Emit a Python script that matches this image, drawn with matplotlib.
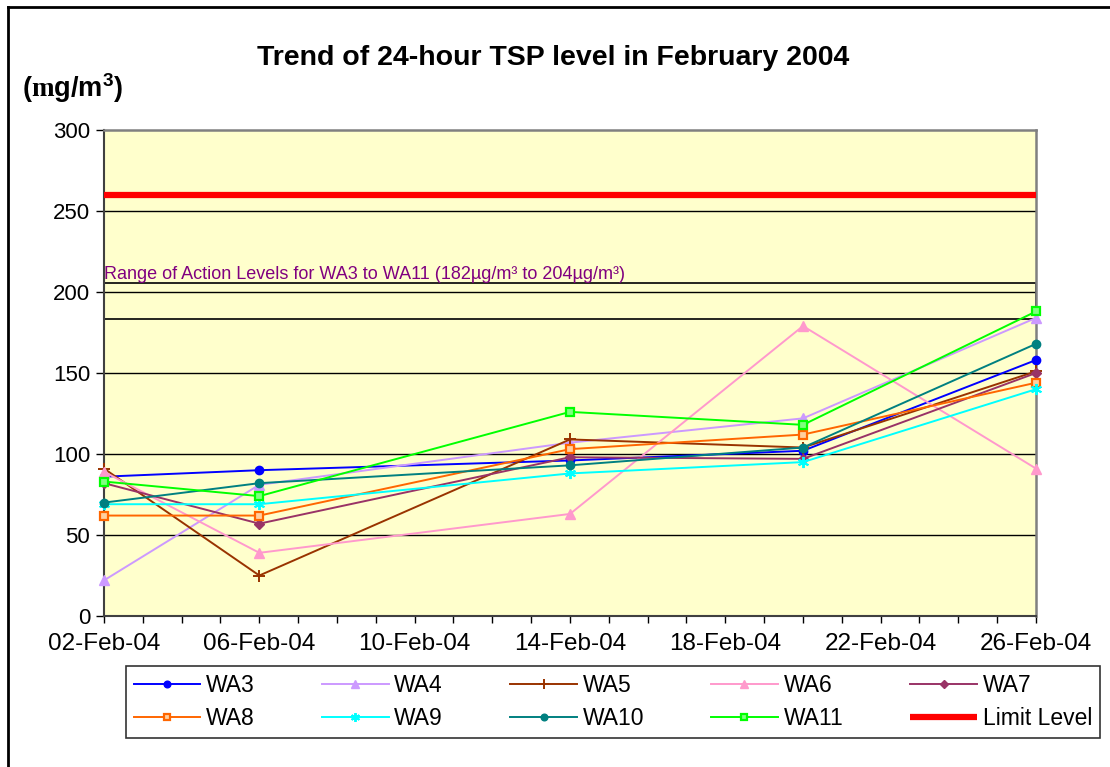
import matplotlib
matplotlib.use("Agg")
import matplotlib.pyplot as plt
import matplotlib.dates as mdates
from matplotlib.lines import Line2D
from matplotlib.patches import Rectangle
import datetime as dt

plt.rcParams['font.family'] = ['Liberation Sans', 'DejaVu Sans']
plt.rcParams['mathtext.fontset'] = 'custom'
plt.rcParams['mathtext.rm'] = 'Liberation Serif:bold'
plt.rcParams['mathtext.bf'] = 'Liberation Sans:bold'

dates = ["2004-02-02", "2004-02-06", "2004-02-14", "2004-02-20", "2004-02-26"]
WA3 = [86, 90, 96, 102, 158]
WA4 = [22, 81, 107, 122, 184]
WA5 = [91, 25, 109, 104, 151]
WA6 = [89, 39, 63, 179, 91]
WA7 = [82, 57, 98, 97, 150]
WA8 = [62, 62, 103, 112, 144]
WA9 = [69, 69, 88, 95, 140]
WA10 = [70, 82, 93, 104, 168]
WA11 = [83, 74, 126, 118, 188]
limit_level = 260
action_low, action_high = 183.5, 205.5
series_names = ["WA3", "WA4", "WA5", "WA6", "WA7", "WA8", "WA9", "WA10", "WA11"]
series_values = [WA3, WA4, WA5, WA6, WA7, WA8, WA9, WA10, WA11]
x_start, x_end = "2004-02-02", "2004-02-26"
y_ticks = [0, 50, 100, 150, 200, 250, 300]

styles = {
    "WA3": dict(color="#0000FF", marker="o", ms=6),
    "WA4": dict(color="#CC99FF", marker="^", ms=7),
    "WA5": dict(color="#993300", marker="+", ms=9, mew=1.4),
    "WA6": dict(color="#FF99CC", marker="^", ms=7),
    "WA7": dict(color="#993366", marker="D", ms=5.5),
    "WA8": dict(color="#FF6600", marker="s", ms=6, mfc="#FFD0A0", mew=1.6),
    "WA9": dict(color="#00FFFF", marker=(6, 2, 0), ms=8, mew=1.4),
    "WA10": dict(color="#008080", marker="o", ms=6),
    "WA11": dict(color="#00FF00", marker="s", ms=6, mfc="#80FF80", mew=1.6),
}

xd = [dt.datetime.strptime(d, "%Y-%m-%d") for d in dates]

fig = plt.figure(figsize=(11.1, 7.67), dpi=100)
ax = fig.add_axes([104 / 1110, 1 - 616 / 767, (1036 - 104) / 1110, (616 - 130) / 767])
ax.set_facecolor("#FFFFCC")

for yv in y_ticks[1:-1]:
    ax.axhline(yv, color="black", lw=1, zorder=1)

ax.add_patch(Rectangle((mdates.date2num(dt.datetime.strptime(x_start, "%Y-%m-%d")), action_low),
                       24, action_high - action_low, fill=False, ec="black", lw=1.2, zorder=2))

handles = []
for name, vals in zip(series_names, series_values):
    st = styles[name]
    h, = ax.plot(xd, vals, lw=1.4, label=name, clip_on=False, zorder=3, **st)
    handles.append(h)

lim = ax.axhline(limit_level, color="#FF0000", lw=4.5, solid_capstyle="butt", zorder=4, label="Limit Level")
handles.append(lim)

ax.set_xlim(dt.datetime.strptime(x_start, "%Y-%m-%d"), dt.datetime.strptime(x_end, "%Y-%m-%d"))
ax.set_ylim(0, 300)
ax.set_yticks(y_ticks)
ax.xaxis.set_major_locator(mdates.DayLocator(bymonthday=range(2, 30, 4)))
ax.xaxis.set_major_formatter(mdates.DateFormatter("%d-%b-%y"))
ax.xaxis.set_minor_locator(mdates.DayLocator())
ax.tick_params(axis="x", which="both", direction="out", length=5, width=1, colors="black",
               labelsize=17.5, pad=7)
ax.tick_params(axis="y", direction="out", length=6, width=1, labelsize=16, pad=4)

for s in ["left", "bottom"]:
    ax.spines[s].set_color("#404040")
    ax.spines[s].set_linewidth(1.5)
for s in ["top", "right"]:
    ax.spines[s].set_color("#808080")
    ax.spines[s].set_linewidth(1.8)

ax.text(0.0, action_high, "Range of Action Levels for WA3 to WA11 (182µg/m³ to 204µg/m³)",
        transform=ax.get_yaxis_transform(), color="#800080", fontsize=13,
        family=["Liberation Sans Narrow", "Liberation Sans"], va="bottom", ha="left", zorder=5)

fig.text(553 / 1110, 1 - 58 / 767, "Trend of 24-hour TSP level in February 2004",
         fontsize=20.5, fontweight="bold", ha="center", va="center")
fig.text(22 / 1110, 1 - 88 / 767, r"$\mathbf{(}\mathrm{m}\mathbf{g/m^3)}$",
         fontsize=19.5, ha="left", va="center")

order = [0, 5, 1, 6, 2, 7, 3, 8, 4, 9]
leg = fig.legend([handles[i] for i in order], [handles[i].get_label() for i in order],
                 ncol=5, loc="lower left",
                 bbox_to_anchor=(126 / 1110, 1 - 738 / 767, (1100 - 126) / 1110, 78 / 767),
                 mode="expand", frameon=True, fancybox=False, edgecolor="black",
                 fontsize=16.5, handlelength=2.9, handletextpad=0.25, borderaxespad=0,
                 labelspacing=0.45, markerscale=0.8, borderpad=0.35, columnspacing=0.5)
leg.get_frame().set_linewidth(1.2)

fig.add_artist(Line2D([8 / 1110, 1], [1 - 7 / 767, 1 - 7 / 767], transform=fig.transFigure,
                      color="black", lw=2))
fig.add_artist(Line2D([8 / 1110, 8 / 1110], [0, 1 - 7 / 767], transform=fig.transFigure,
                      color="black", lw=2))

fig.savefig("out.png", dpi=100)
